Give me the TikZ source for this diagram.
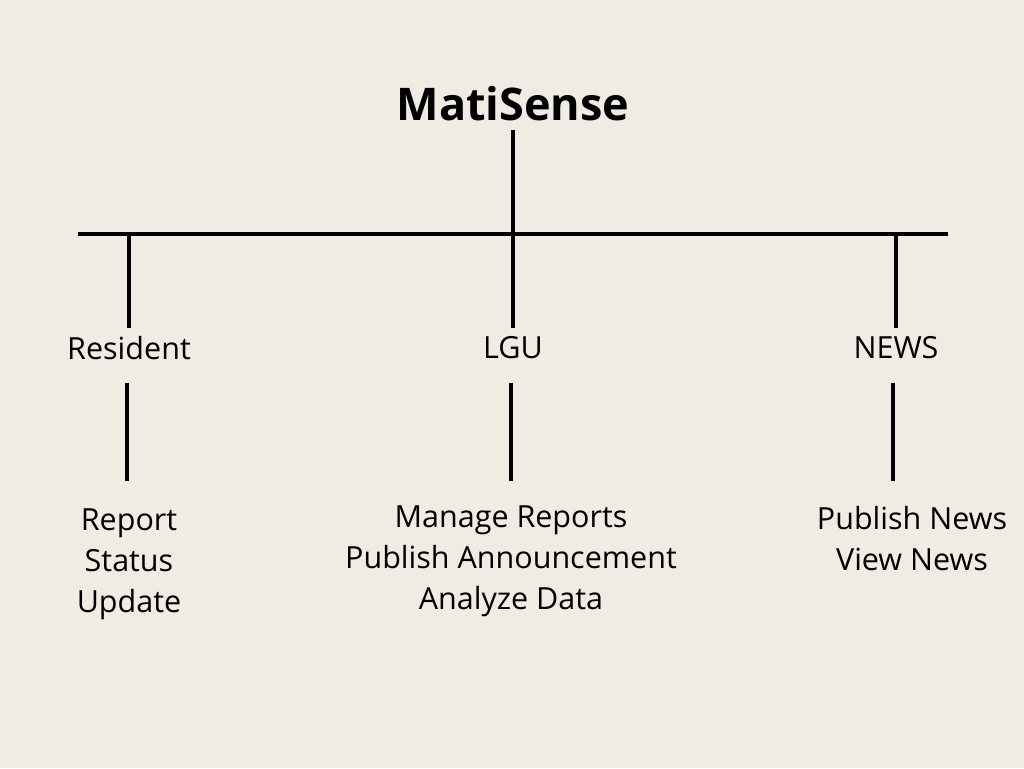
\documentclass[tikz,border=0pt]{standalone}
\usepackage{fontspec}
\setmainfont{Open Sans}
\usetikzlibrary{positioning}
\definecolor{paper}{RGB}{240, 235, 227}

\tikzset{
  branch/.style={line width=3.5pt, black},
  rolename/.style={font=\fontsize{30.5}{41}\selectfont, inner sep=0pt},
  tasklist/.style={font=\fontsize{30.5}{41}\selectfont, align=center, inner sep=0pt}
}

\begin{document}
\begin{tikzpicture}[x=1pt, y=-1pt]

  \fill[paper] (0, 0) rectangle (1024, 768);

  \node[font=\bfseries\fontsize{45}{54}\selectfont, inner sep=0pt] (title) at (513, 104) {MatiSense};

  \coordinate (top) at (513, 130);
  \coordinate (hub) at (513, 234);
  \coordinate (barleft) at (78, 234);
  \coordinate (barright) at (948, 234);

  \draw[branch] (top) -- (hub);
  \draw[branch] (barleft) -- (barright);

  \foreach \role/\xa/\xb/\name in {resident/129/127/Resident, lgu/513/511/LGU, news/896/893/NEWS} {
    \coordinate (\role up) at (\xa, 234);
    \coordinate (\role in) at (\xa, 328);
    \node[rolename] (\role) at (\xa, 348) {\name};
    \coordinate (\role out) at (\xb, 383);
    \coordinate (\role down) at (\xb, 481);
    \draw[branch] (\role up) -- (\role in);
    \draw[branch] (\role out) -- (\role down);
  }

  \node[tasklist] (resident tasks) at (129, 564) {Report\\Status\\Update};
  \node[tasklist] (lgu tasks) at (511, 561) {Manage Reports\\Publish Announcement\\Analyze Data};
  \node[tasklist] (news tasks) at (912, 539) {Publish News\\View News};

\end{tikzpicture}
\end{document}
